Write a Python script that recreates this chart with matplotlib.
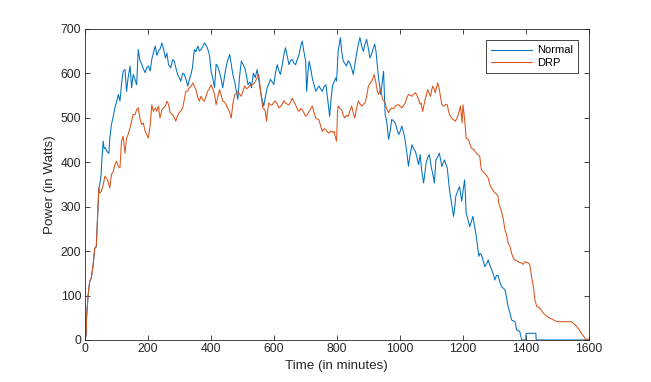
import matplotlib
matplotlib.use("Agg")
import matplotlib.pyplot as plt
import numpy as np

# Values (minutes, watts)
normal_t = [
    0, 3, 5, 6, 11, 16, 21, 27, 32, 37, 41, 45, 48, 52, 55, 59, 62, 66, 70, 74,
    77, 80, 85, 90, 96, 101, 107, 112, 117, 122, 128, 133, 138, 144, 149, 154, 160, 165, 170, 175,
    181, 186, 192, 197, 202, 208, 213, 218, 224, 229, 234, 240, 245, 250, 256, 261, 266, 273, 279, 284,
    290, 295, 300, 305, 311, 316, 322, 327, 332, 337, 342, 348, 353, 359, 364, 369, 375, 380, 386, 391,
    396, 401, 406, 412, 417, 422, 427, 432, 438, 443, 448, 454, 460, 465, 470, 476, 481, 486, 491, 497,
    502, 508, 513, 518, 524, 529, 535, 541, 547, 552, 558, 563, 568, 574, 579, 584, 589, 595, 600, 605,
    611, 616, 621, 627, 632, 637, 642, 648, 653, 658, 664, 669, 674, 680, 685, 690, 695, 701, 704, 708,
    712, 717, 722, 727, 733, 738, 743, 748, 754, 759, 765, 771, 777, 782, 786, 791, 796, 799, 804, 811,
    815, 820, 825, 830, 836, 841, 847, 852, 857, 862, 868, 873, 879, 884, 889, 894, 900, 905, 911, 916,
    920, 924, 928, 932, 936, 939, 944, 948, 953, 958, 964, 969, 974, 980, 985, 990, 996, 1001, 1006, 1012,
    1017, 1022, 1027, 1033, 1038, 1043, 1049, 1054, 1059, 1064, 1069, 1075, 1079, 1083, 1088, 1093, 1097, 1100, 1105, 1109,
    1114, 1120, 1125, 1129, 1133, 1137, 1141, 1146, 1150, 1154, 1157, 1163, 1170, 1174, 1177, 1183, 1189, 1193, 1196, 1200,
    1205, 1208, 1210, 1216, 1221, 1226, 1231, 1237, 1242, 1246, 1250, 1254, 1258, 1264, 1269, 1275, 1280, 1285, 1290, 1296,
    1301, 1306, 1311, 1317, 1322, 1328, 1333, 1338, 1343, 1349, 1354, 1360, 1365, 1370, 1375, 1380, 1386, 1399, 1400, 1431,
    1432, 1600,
]
normal_w = [
    0, 5, 15, 49, 101, 131, 139, 169, 206, 210, 274, 342, 349, 370, 410, 447, 430, 432, 425, 421,
    420, 455, 484, 500, 522, 535, 552, 537, 575, 604, 608, 559, 590, 616, 567, 597, 585, 574, 653, 630,
    620, 610, 601, 612, 616, 605, 631, 645, 661, 640, 650, 655, 668, 655, 634, 645, 619, 612, 630, 627,
    610, 597, 590, 582, 600, 597, 585, 571, 585, 597, 612, 653, 648, 661, 650, 653, 660, 668, 662, 653,
    640, 604, 590, 567, 620, 615, 604, 590, 567, 590, 612, 630, 642, 620, 597, 580, 559, 541, 590, 627,
    620, 612, 595, 574, 580, 567, 600, 590, 608, 585, 559, 540, 526, 550, 567, 575, 586, 580, 574, 600,
    619, 605, 597, 620, 642, 657, 640, 619, 628, 631, 622, 619, 630, 642, 660, 672, 650, 627, 559, 600,
    627, 610, 589, 575, 559, 565, 571, 565, 559, 570, 574, 540, 503, 545, 571, 580, 589, 582, 649, 680,
    650, 627, 622, 616, 628, 623, 610, 597, 620, 642, 665, 680, 660, 649, 665, 676, 655, 634, 645, 657,
    665, 649, 620, 589, 570, 552, 580, 604, 507, 492, 451, 470, 496, 492, 488, 475, 462, 470, 481, 465,
    447, 420, 391, 420, 439, 430, 424, 410, 394, 417, 380, 353, 375, 398, 410, 417, 400, 386, 370, 353,
    405, 412, 420, 405, 390, 398, 405, 395, 387, 360, 338, 310, 278, 300, 323, 335, 345, 325, 312, 335,
    360, 320, 285, 270, 255, 265, 278, 255, 233, 210, 188, 195, 192, 178, 165, 172, 180, 168, 160, 148,
    135, 145, 145, 130, 120, 116, 113, 95, 75, 60, 45, 43, 41, 23, 21, 19, 0, 0, 15, 15,
    0, 0,
]

drp_t = [
    0, 3, 5, 6, 11, 16, 21, 27, 32, 37, 41, 45, 48, 53, 59, 64, 69, 74, 80, 85,
    91, 96, 101, 107, 112, 117, 122, 128, 133, 138, 144, 149, 154, 160, 165, 170, 175, 181, 186, 192,
    197, 202, 208, 213, 218, 224, 229, 234, 239, 245, 250, 256, 261, 266, 271, 279, 284, 289, 295, 300,
    305, 311, 316, 321, 327, 332, 337, 343, 348, 353, 359, 364, 369, 375, 380, 385, 390, 396, 401, 406,
    412, 417, 422, 428, 433, 438, 443, 449, 454, 459, 465, 470, 476, 481, 486, 492, 497, 502, 508, 513,
    518, 524, 529, 535, 542, 547, 552, 558, 565, 569, 573, 577, 580, 584, 590, 595, 600, 605, 611, 616,
    621, 626, 632, 637, 643, 648, 653, 658, 664, 669, 674, 680, 685, 690, 696, 701, 707, 712, 717, 722,
    728, 733, 738, 743, 749, 754, 760, 765, 770, 775, 781, 786, 791, 796, 799, 802, 804, 810, 815, 820,
    825, 830, 836, 841, 847, 852, 857, 862, 868, 874, 879, 884, 889, 895, 900, 906, 911, 918, 924, 928,
    932, 936, 939, 945, 949, 953, 958, 964, 969, 974, 980, 985, 990, 996, 1001, 1006, 1012, 1017, 1022, 1027,
    1033, 1038, 1043, 1049, 1054, 1059, 1064, 1067, 1072, 1076, 1080, 1084, 1088, 1093, 1097, 1100, 1104, 1108, 1112, 1116,
    1120, 1125, 1129, 1133, 1137, 1141, 1146, 1150, 1154, 1157, 1163, 1168, 1172, 1176, 1180, 1183, 1188, 1192, 1197, 1200,
    1205, 1210, 1214, 1218, 1222, 1226, 1230, 1234, 1238, 1242, 1248, 1253, 1258, 1264, 1269, 1274, 1280, 1284, 1288, 1292,
    1296, 1303, 1308, 1311, 1313, 1317, 1322, 1328, 1333, 1338, 1343, 1349, 1354, 1359, 1364, 1370, 1375, 1380, 1386, 1391,
    1396, 1402, 1407, 1411, 1415, 1419, 1423, 1428, 1434, 1440, 1444, 1450, 1455, 1460, 1466, 1471, 1476, 1482, 1487, 1495,
    1503, 1520, 1545, 1550, 1556, 1564, 1572, 1578, 1583, 1588, 1600,
]
drp_w = [
    0, 5, 15, 49, 101, 131, 139, 169, 206, 210, 274, 342, 330, 334, 349, 368, 364, 357, 342, 372,
    379, 394, 402, 390, 387, 447, 458, 420, 454, 462, 477, 492, 507, 507, 518, 522, 499, 484, 488, 469,
    462, 454, 484, 529, 514, 522, 514, 526, 499, 518, 522, 526, 537, 530, 511, 507, 500, 492, 505, 511,
    515, 522, 540, 559, 560, 567, 570, 578, 570, 563, 545, 537, 548, 540, 537, 548, 559, 565, 574, 565,
    552, 529, 545, 563, 550, 537, 535, 529, 520, 514, 499, 530, 552, 555, 559, 552, 548, 560, 571, 565,
    567, 572, 574, 575, 582, 590, 597, 559, 522, 520, 514, 492, 515, 533, 528, 529, 535, 537, 530, 522,
    525, 529, 538, 533, 530, 529, 535, 544, 535, 529, 520, 514, 520, 518, 510, 503, 508, 514, 520, 526,
    510, 499, 497, 495, 480, 469, 475, 473, 468, 465, 470, 467, 469, 454, 447, 514, 526, 520, 518, 505,
    499, 505, 503, 515, 526, 510, 499, 520, 537, 530, 526, 530, 533, 550, 571, 578, 582, 597, 578, 560,
    552, 560, 563, 541, 538, 533, 520, 511, 518, 522, 520, 526, 528, 529, 525, 522, 528, 533, 545, 552,
    550, 548, 552, 556, 550, 541, 530, 533, 514, 528, 541, 552, 563, 555, 548, 560, 571, 565, 556, 568,
    578, 563, 545, 529, 526, 526, 530, 529, 515, 507, 500, 496, 494, 492, 498, 503, 515, 526, 488, 529,
    496, 454, 452, 450, 440, 432, 430, 428, 424, 420, 416, 413, 383, 378, 375, 370, 364, 352, 345, 340,
    335, 330, 326, 323, 308, 300, 289, 270, 248, 237, 218, 210, 195, 185, 180, 178, 176, 174, 173, 170,
    176, 174, 173, 170, 154, 135, 120, 90, 75, 73, 71, 65, 60, 57, 53, 51, 49, 47, 45, 42,
    41, 41, 41, 37, 34, 27, 19, 12, 8, 2, 2,
]

x_ticks = np.arange(0, 1601, 200)
y_ticks = np.arange(0, 701, 100)

NORMAL_COLOR = (0.0, 0.447, 0.741)
DRP_COLOR = (0.85, 0.325, 0.098)
AXIS_COLOR = (0.15, 0.15, 0.15)


def main() -> None:
    plt.rcParams.update(
        {
            "font.family": ["Liberation Sans", "DejaVu Sans"],
            "font.size": 8.7,
            "axes.edgecolor": AXIS_COLOR,
            "axes.linewidth": 0.6,
            "xtick.color": AXIS_COLOR,
            "ytick.color": AXIS_COLOR,
            "xtick.direction": "in",
            "ytick.direction": "in",
            "xtick.major.size": 3.5,
            "ytick.major.size": 3.5,
            "xtick.major.width": 0.6,
            "ytick.major.width": 0.6,
            "xtick.top": True,
            "ytick.right": True,
        }
    )

    fig = plt.figure(figsize=(6.51, 3.82), dpi=100)
    ax = fig.add_axes([0.13, 0.11, 0.775, 0.815])

    ax.plot(normal_t, normal_w, color=NORMAL_COLOR, linewidth=0.75, label="Normal")
    ax.plot(drp_t, drp_w, color=DRP_COLOR, linewidth=0.75, label="DRP")

    ax.set_xlim(0, 1600)
    ax.set_ylim(0, 700)
    ax.set_xticks(x_ticks)
    ax.set_yticks(y_ticks)
    ax.tick_params(labelsize=8.7, pad=2.5)

    ax.set_xlabel("Time (in minutes)", fontsize=9.6, color=AXIS_COLOR, labelpad=3)
    ax.set_ylabel("Power (in Watts)", fontsize=9.6, color=AXIS_COLOR, labelpad=3)

    leg = ax.legend(
        loc="upper right",
        bbox_to_anchor=(0.978, 0.962),
        fontsize=8,
        handlelength=3.7,
        handletextpad=0.45,
        borderpad=0.45,
        labelspacing=0.25,
        fancybox=False,
        framealpha=1.0,
        borderaxespad=0.0,
    )
    leg.get_frame().set_edgecolor(AXIS_COLOR)
    leg.get_frame().set_linewidth(0.6)

    fig.savefig("out.png", dpi=100)
    plt.close(fig)


if __name__ == "__main__":
    main()
